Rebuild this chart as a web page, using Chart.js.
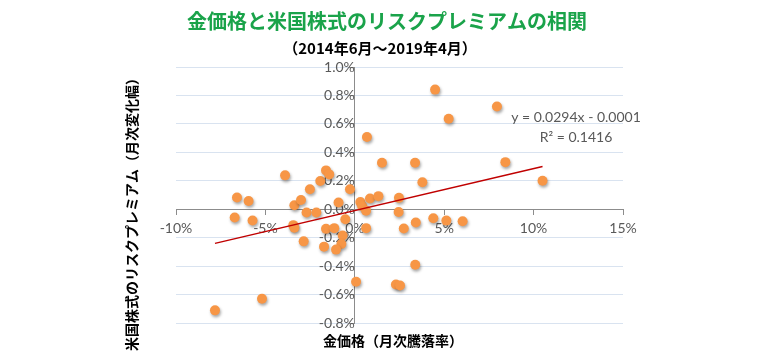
<!DOCTYPE html>
<html>
<head>
<meta charset="utf-8">
<script src="https://cdn.jsdelivr.net/npm/chart.js@4/dist/chart.umd.min.js"></script>
<style>
  html, body { margin: 0; padding: 0; background: #ffffff; }
  #wrap { width: 780px; height: 356px; position: relative; }
</style>
</head>
<body>
<div id="wrap"><canvas id="c" width="780" height="356"></canvas></div>
<script>
// ---- data (percent units) ----
const chartTitle = '金価格と米国株式のリスクプレミアムの相関';
const chartSubtitle = '（2014年6月～2019年4月）';
const xAxisTitle = '金価格（月次騰落率）';
const yAxisTitle = '米国株式のリスクプレミアム（月次変化幅）';
const trendLabel1 = 'y = 0.0294x - 0.0001';
const trendLabel2 = 'R² = 0.1416';

// Gold price monthly change (%)
const goldChange = [-7.82,-5.19,-6.59,-5.94,-6.72,-5.72,-3.90,-3.38,-3.01,-2.51,-1.93,-1.61,-1.43,-2.70,-2.15,-0.91,-0.27,-0.53,-3.44,-3.38,-2.86,-1.72,-1.61,-1.15,-0.68,-0.75,-1.05,0.07,0.31,0.41,0.63,0.85,1.32,0.63,1.52,2.47,2.45,2.74,3.37,3.78,3.41,4.39,5.12,6.03,3.38,2.30,2.53,0.68,4.49,5.25,7.95,8.42,10.5];
// US equity risk premium monthly change (%pt)
const riskPremiumChange = [-0.711,-0.629,0.082,0.058,-0.058,-0.079,0.238,0.028,0.065,0.14,0.198,0.273,0.245,-0.023,-0.023,0.047,0.14,-0.07,-0.112,-0.13,-0.226,-0.263,-0.138,-0.133,-0.185,-0.245,-0.284,-0.51,0.05,0.022,-0.01,0.075,0.092,-0.133,0.327,0.08,-0.02,-0.135,0.327,0.19,-0.093,-0.063,-0.08,-0.084,-0.39,-0.529,-0.536,0.508,0.841,0.636,0.722,0.331,0.20];
// Linear trend line end points
const trendX = [-7.82, 10.5];
const trendY = [-0.24, 0.30];
// Axis ticks
const xTicks = [-10, -5, 0, 5, 10, 15];
const yTicks = [-0.8, -0.6, -0.4, -0.2, 0.0, 0.2, 0.4, 0.6, 0.8, 1.0];

const scatterData = goldChange.map((x, i) => ({ x: x, y: riskPremiumChange[i] }));
const trendData = trendX.map((x, i) => ({ x: x, y: trendY[i] }));

const TICK_FONT = { family: 'Lato, "Liberation Sans", sans-serif', size: 14 };
const TICK_COLOR = '#595959';
const AXIS_COLOR = '#8c8c8c';
const GRID_COLOR = '#d9e3f0';
const JP = '"Noto Sans CJK JP", "Noto Sans", sans-serif';

const shadowPlugin = {
  id: 'pointShadow',
  beforeDatasetDraw(chart, args) {
    if (args.index === 1) {
      const ctx = chart.ctx;
      ctx.save();
      ctx.shadowColor = 'rgba(0,0,0,0.35)';
      ctx.shadowBlur = 3;
      ctx.shadowOffsetX = 1;
      ctx.shadowOffsetY = 2;
    }
  },
  afterDatasetDraw(chart, args) {
    if (args.index === 1) chart.ctx.restore();
  }
};

const textPlugin = {
  id: 'texts',
  afterDraw(chart) {
    const ctx = chart.ctx;
    ctx.save();
    ctx.textAlign = 'center';
    ctx.textBaseline = 'middle';
    // title
    ctx.fillStyle = '#1aa34a';
    ctx.font = 'bold 20px ' + JP;
    ctx.fillText(chartTitle, 387, 21);
    // subtitle
    ctx.fillStyle = '#000000';
    ctx.font = 'bold 15px ' + JP;
    ctx.fillText(chartSubtitle, 380, 48);
    // x axis title
    ctx.font = 'bold 14px ' + JP;
    ctx.fillText(xAxisTitle, 393, 341);
    // y axis title
    ctx.save();
    ctx.translate(132, 211);
    ctx.rotate(-Math.PI / 2);
    ctx.fillText(yAxisTitle, 0, 0);
    ctx.restore();
    // trend labels
    ctx.fillStyle = TICK_COLOR;
    ctx.font = '14px Lato, "Liberation Sans", sans-serif';
    ctx.fillText(trendLabel1, 576, 117);
    ctx.fillText(trendLabel2, 576, 137);
    ctx.restore();
  }
};

new Chart(document.getElementById('c'), {
  type: 'scatter',
  data: {
    datasets: [
      {
        type: 'line',
        label: 'trend',
        data: trendData,
        borderColor: '#c00000',
        borderWidth: 1.5,
        pointRadius: 0,
        fill: false,
        order: 1
      },
      {
        label: 'data',
        data: scatterData,
        backgroundColor: '#f79646',
        borderColor: '#f79646',
        borderWidth: 0,
        pointRadius: 5,
        order: 2
      }
    ]
  },
  options: {
    responsive: false,
    animation: false,
    devicePixelRatio: 1,
    layout: { padding: { left: 176, right: 157, top: 67, bottom: 33 } },
    plugins: {
      legend: { display: false },
      tooltip: { enabled: false },
      title: { display: false }
    },
    scales: {
      x: {
        type: 'linear',
        position: { y: 0 },
        min: -10,
        max: 15,
        afterBuildTicks(scale) { scale.ticks = xTicks.map(v => ({ value: v })); },
        ticks: {
          font: TICK_FONT,
          color: TICK_COLOR,
          padding: 6,
          maxRotation: 0,
          callback: v => v + '%'
        },
        grid: {
          drawOnChartArea: false,
          drawTicks: true,
          tickLength: 5,
          tickColor: AXIS_COLOR
        },
        border: { color: AXIS_COLOR, width: 1 }
      },
      y: {
        type: 'linear',
        position: { x: 0 },
        min: -0.8,
        max: 1.0,
        afterBuildTicks(scale) { scale.ticks = yTicks.map(v => ({ value: v })); },
        ticks: {
          font: TICK_FONT,
          color: TICK_COLOR,
          padding: 9,
          callback: v => Number(v).toFixed(1) + '%'
        },
        grid: {
          color: GRID_COLOR,
          lineWidth: 1,
          drawTicks: true,
          tickLength: 5,
          tickColor: AXIS_COLOR
        },
        border: { color: AXIS_COLOR, width: 1 }
      }
    }
  },
  plugins: [shadowPlugin, textPlugin]
});
</script>
</body>
</html>
